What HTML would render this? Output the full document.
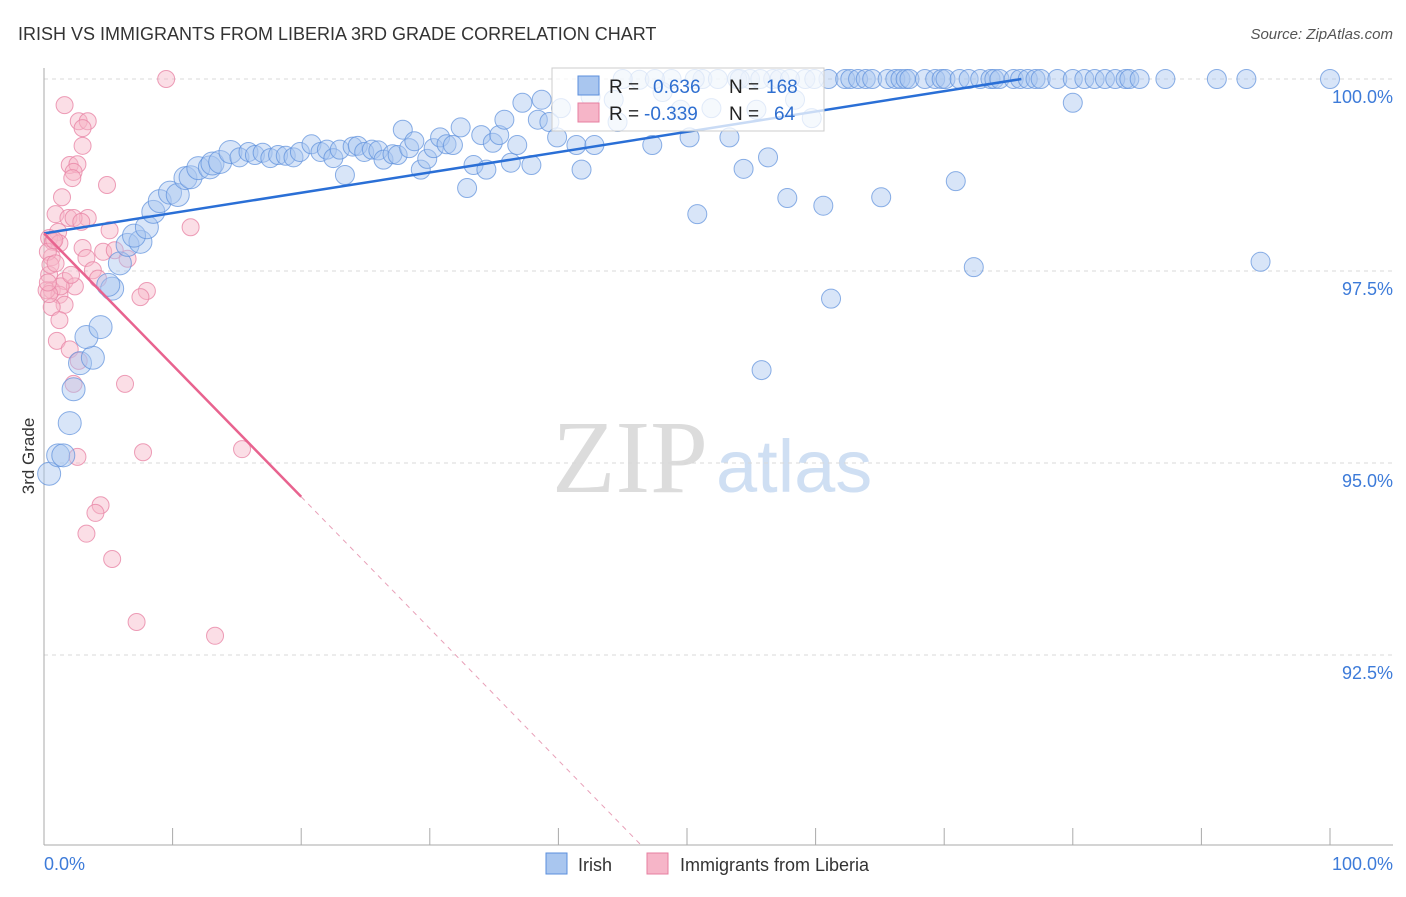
<!DOCTYPE html>
<html><head><meta charset="utf-8"><style>
body{margin:0;background:#fff;width:1406px;height:892px;overflow:hidden;font-family:"Liberation Sans",sans-serif;}
svg text{font-family:"Liberation Sans",sans-serif;}
</style></head><body>
<svg id="chart" width="1406" height="892" xmlns="http://www.w3.org/2000/svg">
<text x="18" y="40" font-size="18" fill="#333">IRISH VS IMMIGRANTS FROM LIBERIA 3RD GRADE CORRELATION CHART</text>
<text x="1393" y="39" font-size="15" fill="#555" font-style="italic" text-anchor="end">Source: ZipAtlas.com</text>
<g>
<text x="552" y="492" font-size="104" fill="#dcdcdc" style="font-family:'Liberation Serif',serif">ZIP</text>
<text x="716" y="492" font-size="74" fill="#cfdff3">atlas</text>
</g>
<g id="grid"></g>
<g id="axes"></g>
<g id="pts"></g>
<g id="lines"></g>
<text x="34" y="456" font-size="17" fill="#333" text-anchor="middle" transform="rotate(-90 34 456)">3rd Grade</text>
<g>
<rect x="552" y="68" width="272" height="63" fill="#fff" fill-opacity="0.75" stroke="#ccc"/>
<rect x="578" y="76" width="21" height="19" fill="#a9c6ef" stroke="#5b8fdc"/>
<rect x="578" y="103" width="21" height="19" fill="#f6b5c8" stroke="#e77fa0"/>
<text x="609" y="93" font-size="19" fill="#222">R =</text><text x="653" y="93" font-size="19" fill="#2f6fd0">0.636</text>
<text x="729" y="93" font-size="19" fill="#222">N =</text><text x="766" y="93" font-size="19" fill="#2f6fd0">168</text>
<text x="609" y="120" font-size="19" fill="#222">R =</text><text x="644" y="120" font-size="19" fill="#2f6fd0">-0.339</text>
<text x="729" y="120" font-size="19" fill="#222">N =</text><text x="774" y="120" font-size="19" fill="#2f6fd0">64</text>
</g>
<g>
<rect x="546" y="853" width="21" height="21" fill="#a9c6ef" stroke="#5b8fdc"/>
<text x="578" y="871" font-size="18" fill="#333">Irish</text>
<rect x="647" y="853" width="21" height="21" fill="#f6b5c8" stroke="#e77fa0"/>
<text x="680" y="871" font-size="18" fill="#333">Immigrants from Liberia</text>
</g>
</svg>
<script>
const yTicks=[100,97.5,95,92.5];
const yTickLabels=["100.0%","97.5%","95.0%","92.5%"];
const xTickLabels=["0.0%","100.0%"];
const irishX=[0.4,1.1,1.5,2.0,2.3,2.8,3.8,3.3,4.4,5.3,5.0,5.9,6.5,7.5,7.0,8.0,8.5,9.0,9.8,10.4,11.0,11.4,12.0,12.9,13.1,13.7,14.5,15.2,15.9,16.4,17.0,17.6,18.2,18.8,19.4,19.9,20.8,21.5,22.0,22.5,23.0,23.4,24.0,24.4,24.9,25.5,26.0,26.4,27.1,27.5,27.9,28.4,28.8,29.3,29.8,30.3,30.8,31.3,31.8,32.4,32.9,33.4,34.0,34.4,34.9,35.4,35.8,36.3,36.8,37.2,37.9,38.4,38.7,39.3,39.9,40.2,41.4,41.8,42.5,42.8,44.3,44.6,46.3,47.3,48.1,48.8,49.5,50.2,50.8,51.2,51.9,52.4,53.3,53.9,54.4,54.9,55.4,55.8,56.3,56.7,57.2,57.8,58.4,59.2,59.7,60.6,61.2,61.0,62.3,62.7,63.3,63.9,64.4,65.1,65.6,66.2,66.6,67.0,67.3,68.5,69.3,69.8,70.1,70.9,71.2,71.9,72.3,72.8,73.6,73.9,74.3,75.4,75.9,76.5,77.1,77.5,78.8,80.0,80.0,80.9,81.7,82.5,83.3,84.1,84.4,85.2,87.2,91.2,93.5,94.6,100,45.0,47.5,50.6,54.1,55.7,58.0,59.9];
const irishY=[94.86,95.1,95.1,95.52,95.96,96.3,96.37,96.64,96.77,97.27,97.32,97.6,97.84,97.88,97.96,98.07,98.27,98.41,98.52,98.49,98.71,98.72,98.84,98.85,98.9,98.92,99.05,98.98,99.05,99.01,99.04,98.97,99.01,99.0,98.98,99.05,99.15,99.05,99.08,98.97,99.08,98.75,99.12,99.13,99.05,99.08,99.07,98.95,99.02,99.01,99.34,99.1,99.19,98.82,98.96,99.1,99.24,99.15,99.14,99.37,98.58,98.88,99.27,98.82,99.17,99.27,99.47,98.91,99.14,99.69,98.88,99.47,99.73,99.44,99.24,99.62,99.14,98.82,99.77,99.14,99.73,99.44,99.99,99.14,99.83,100,99.6,99.24,98.24,100,99.62,100,99.24,100,98.83,100,99.6,96.21,98.98,100,100,98.45,99.73,100,99.49,98.35,97.14,100,100,100,100,100,100,98.46,100,100,100,100,100,100,100,100,100,98.67,100,100,97.55,100,100,100,100,100,100,100,100,100,100,100,99.69,100,100,100,100,100,100,100,100,100,100,97.62,100,100,100,100,100,100,100,100];
const libX=[9.5,1.6,2.7,3.4,3.0,3.0,2.0,2.6,2.3,2.2,4.9,1.4,0.9,1.9,3.4,2.3,2.9,11.4,5.1,1.1,0.4,0.7,1.2,3.0,4.6,5.5,0.6,3.3,6.5,3.8,0.4,1.6,4.2,2.4,8.0,0.6,1.2,7.5,1.6,0.6,1.2,1.0,2.0,2.7,6.3,2.3,2.6,7.7,15.4,4.4,4.0,3.3,5.3,7.2,13.3,0.3,0.5,0.2,0.8,1.3,0.4,0.9,2.1,0.3];
const libY=[100,99.66,99.45,99.45,99.36,99.13,98.88,98.89,98.79,98.71,98.62,98.46,98.24,98.19,98.19,98.19,98.14,98.07,98.03,98.01,97.93,97.88,97.86,97.8,97.75,97.77,97.68,97.67,97.66,97.51,97.45,97.37,97.4,97.3,97.24,97.25,97.19,97.16,97.06,97.03,96.86,96.59,96.48,96.33,96.03,96.03,95.08,95.14,95.18,94.45,94.35,94.08,93.75,92.93,92.75,97.75,97.58,97.25,97.9,97.3,97.2,97.6,97.45,97.35];
const irishTrend=[0,97.99,76,100];
const libTrend=[0,97.99,20,94.56,46.4,90.03];
const NS="http://www.w3.org/2000/svg";
const sx=v=>44+v*12.86, sy=v=>79+(100-v)*76.8;
function mk(tag,attrs,parent){const e=document.createElementNS(NS,tag);for(const k in attrs)e.setAttribute(k,attrs[k]);document.getElementById(parent).appendChild(e);return e;}
yTicks.forEach((t,i)=>{
 const g=mk('line',{x1:44,x2:1393,y1:sy(t),y2:sy(t),stroke:'#d8d8d8','stroke-dasharray':'4,4'},'grid');
 
 
 const l=mk('text',{x:1393,y:sy(t)+24,'font-size':18,fill:'#3d7bd9','text-anchor':'end'},'grid');
 l.textContent=yTickLabels[i];
 
 
});
const ax=mk('line',{x1:44,x2:44,y1:68,y2:845,stroke:'#aaa'},'axes');


const bx=mk('line',{x1:44,x2:1393,y1:845,y2:845,stroke:'#aaa'},'axes');


for(let i=0;i<=10;i++){const t=mk('line',{x1:sx(i*10),x2:sx(i*10),y1:828,y2:845,stroke:'#aaa'},'axes');
 
 }
const xl0=mk('text',{x:44,y:870,'font-size':18,fill:'#3d7bd9'},'axes');xl0.textContent=xTickLabels[0];


const xl1=mk('text',{x:1393,y:870,'font-size':18,fill:'#3d7bd9','text-anchor':'end'},'axes');xl1.textContent=xTickLabels[1];


libX.forEach((x,i)=>{const c=mk('circle',{cx:sx(x),cy:sy(libY[i]),r:8.5,fill:'#f6b5c8','fill-opacity':0.45,stroke:'#e886a6','stroke-opacity':0.8},'pts');
 
 });
irishX.forEach((x,i)=>{if(irishY[i]===undefined)return;const c=mk('circle',{cx:sx(x),cy:sy(irishY[i]),r:x<15?11.5:9.5,fill:'#a9c6ef','fill-opacity':0.45,stroke:'#5b8fdc','stroke-opacity':0.7},'pts');
 
 });
const bl=mk('line',{x1:sx(irishTrend[0]),y1:sy(irishTrend[1]),x2:sx(irishTrend[2]),y2:sy(irishTrend[3]),stroke:'#2a6fd6','stroke-width':2.5},'lines');


const pl=mk('line',{x1:sx(libTrend[0]),y1:sy(libTrend[1]),x2:sx(libTrend[2]),y2:sy(libTrend[3]),stroke:'#e8638f','stroke-width':2.5},'lines');


const pd=mk('line',{x1:sx(libTrend[2]),y1:sy(libTrend[3]),x2:sx(libTrend[4]),y2:sy(libTrend[5]),stroke:'#e8a0b8','stroke-width':1,'stroke-dasharray':'5,5'},'lines');


</script>
</body></html>
